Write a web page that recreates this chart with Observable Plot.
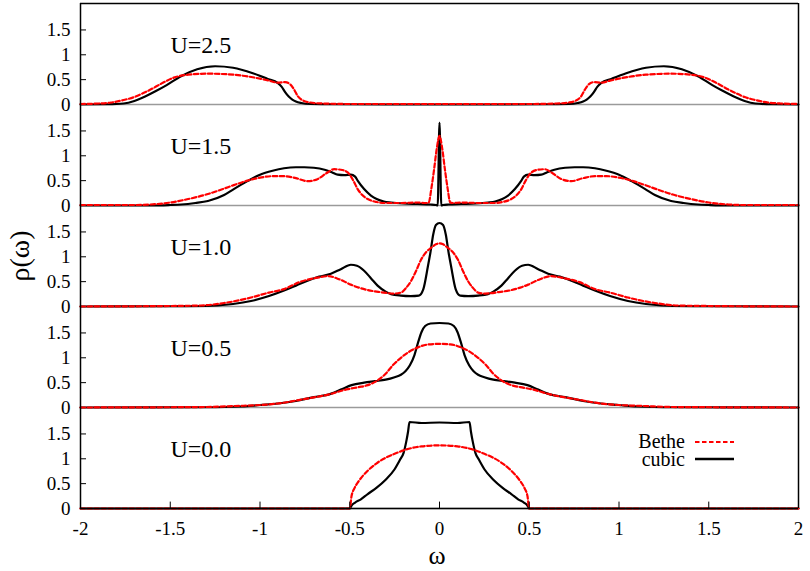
<!DOCTYPE html>
<html>
<head>
<meta charset="utf-8">
<script src="https://cdn.jsdelivr.net/npm/d3@7"></script>
<script src="https://cdn.jsdelivr.net/npm/@observablehq/plot@0.6"></script>
<style>
  body { margin: 0; background: #fff; }
  #wrap { position: relative; width: 810px; height: 571px; }
  #overlay { position: absolute; left: 0; top: 0; pointer-events: none; }
  #overlay text { fill: #000; }
</style>
</head>
<body>
<div id="wrap"></div>
<script>
// ---- labels / ticks ----
const panels = ["U=2.5", "U=1.5", "U=1.0", "U=0.5", "U=0.0"];
const xTicks = [-2, -1.5, -1, -0.5, 0, 0.5, 1, 1.5, 2];
const yTicks = [0, 0.5, 1, 1.5];
const seriesNames = ["Bethe", "cubic"];

// ---- U = 2.5 ----
const omegaU25Bethe = [-2,-1.9,-1.83,-1.76,-1.7,-1.65,-1.61,-1.55,-1.48,-1.4,-1.29,-1.15,-1,-0.95,-0.9,-0.86,-0.83,-0.81,-0.79,-0.76,-0.72,-0.65,-0.5,-0.3,0,0.3,0.5,0.65,0.72,0.76,0.79,0.81,0.83,0.86,0.9,0.95,1,1.15,1.29,1.4,1.48,1.55,1.61,1.65,1.7,1.76,1.83,1.9,2];
const rhoU25Bethe   = [0.01,0.02,0.04,0.09,0.15,0.23,0.3,0.42,0.54,0.6,0.62,0.6,0.52,0.48,0.44,0.45,0.4,0.3,0.17,0.08,0.04,0.02,0.01,0.01,0.01,0.01,0.01,0.02,0.04,0.08,0.17,0.3,0.4,0.45,0.44,0.48,0.52,0.6,0.62,0.6,0.54,0.42,0.3,0.23,0.15,0.09,0.04,0.02,0.01];
const omegaU25Cubic = [-2,-1.85,-1.76,-1.7,-1.64,-1.58,-1.52,-1.44,-1.35,-1.25,-1.15,-1.04,-0.96,-0.9,-0.88,-0.86,-0.84,-0.82,-0.8,-0.77,-0.72,-0.6,-0.3,0,0.3,0.6,0.72,0.77,0.8,0.82,0.84,0.86,0.88,0.9,0.96,1.04,1.15,1.25,1.35,1.44,1.52,1.58,1.64,1.7,1.76,1.85,2];
const rhoU25Cubic   = [0,0.005,0.02,0.07,0.16,0.27,0.39,0.57,0.71,0.77,0.74,0.63,0.52,0.43,0.36,0.25,0.16,0.1,0.06,0.03,0.01,0.005,0,0,0,0.005,0.01,0.03,0.06,0.1,0.16,0.25,0.36,0.43,0.52,0.63,0.74,0.77,0.71,0.57,0.39,0.27,0.16,0.07,0.02,0.005,0];

// ---- U = 1.5 ----
const omegaU15Bethe = [-2,-1.7,-1.61,-1.5,-1.4,-1.3,-1.2,-1.146,-1.07,-1,-0.93,-0.866,-0.8,-0.735,-0.68,-0.63,-0.587,-0.55,-0.51,-0.48,-0.456,-0.43,-0.4,-0.35,-0.31,-0.215,-0.12,-0.075,-0.06,-0.045,-0.03,-0.015,0,0.015,0.03,0.045,0.06,0.075,0.12,0.215,0.31,0.35,0.4,0.43,0.456,0.48,0.51,0.55,0.587,0.63,0.68,0.735,0.8,0.866,0.93,1,1.07,1.146,1.2,1.3,1.4,1.5,1.61,1.7,2];
const rhoU15Bethe   = [0.01,0.01,0.02,0.06,0.13,0.22,0.34,0.41,0.5,0.56,0.59,0.59,0.55,0.49,0.53,0.65,0.73,0.72,0.66,0.5,0.33,0.21,0.13,0.07,0.05,0.05,0.06,0.05,0.06,0.35,0.73,1.15,1.4,1.15,0.73,0.35,0.06,0.05,0.06,0.05,0.05,0.07,0.13,0.21,0.33,0.5,0.66,0.72,0.73,0.65,0.53,0.49,0.55,0.59,0.59,0.56,0.5,0.41,0.34,0.22,0.13,0.06,0.02,0.01,0.01];
const omegaU15Cubic = [-2,-1.6,-1.5,-1.44,-1.36,-1.29,-1.2,-1.146,-1.07,-1,-0.93,-0.866,-0.8,-0.753,-0.7,-0.64,-0.6,-0.567,-0.53,-0.494,-0.47,-0.456,-0.42,-0.382,-0.35,-0.31,-0.27,-0.2,-0.12,-0.05,-0.02,-0.01,0,0.01,0.02,0.05,0.12,0.2,0.27,0.31,0.35,0.382,0.42,0.456,0.47,0.494,0.53,0.567,0.6,0.64,0.7,0.753,0.8,0.866,0.93,1,1.07,1.146,1.2,1.29,1.36,1.44,1.5,1.6,2];
const rhoU15Cubic   = [0,0,0.01,0.02,0.05,0.09,0.21,0.33,0.49,0.62,0.7,0.75,0.77,0.77,0.76,0.72,0.67,0.62,0.61,0.62,0.58,0.5,0.33,0.2,0.13,0.08,0.06,0.04,0.03,0.02,0.01,0,1.67,0,0.01,0.02,0.03,0.04,0.06,0.08,0.13,0.2,0.33,0.5,0.58,0.62,0.61,0.62,0.67,0.72,0.76,0.77,0.77,0.75,0.7,0.62,0.49,0.33,0.21,0.09,0.05,0.02,0.01,0,0];

// ---- U = 1.0 ----
const omegaU10Bethe = [-2,-1.5,-1.33,-1.2,-1.05,-0.95,-0.866,-0.78,-0.68,-0.62,-0.56,-0.494,-0.45,-0.4,-0.33,-0.254,-0.215,-0.185,-0.159,-0.13,-0.103,-0.075,-0.047,-0.02,0,0.02,0.047,0.075,0.103,0.13,0.159,0.185,0.215,0.254,0.33,0.4,0.45,0.494,0.56,0.62,0.68,0.78,0.866,0.95,1.05,1.2,1.33,1.5,2];
const rhoU10Bethe   = [0,0.01,0.02,0.07,0.18,0.28,0.35,0.49,0.58,0.61,0.55,0.44,0.38,0.33,0.29,0.26,0.28,0.38,0.51,0.72,0.94,1.09,1.18,1.25,1.27,1.25,1.18,1.09,0.94,0.72,0.51,0.38,0.28,0.26,0.29,0.33,0.38,0.44,0.55,0.61,0.58,0.49,0.35,0.28,0.18,0.07,0.02,0.01,0];
const omegaU10Cubic = [-2,-1.5,-1.3,-1.237,-1.15,-1.05,-0.95,-0.866,-0.8,-0.735,-0.67,-0.605,-0.55,-0.494,-0.46,-0.42,-0.38,-0.345,-0.3,-0.27,-0.215,-0.16,-0.115,-0.09,-0.065,-0.05,-0.035,-0.02,0,0.02,0.035,0.05,0.065,0.09,0.115,0.16,0.215,0.27,0.3,0.345,0.38,0.42,0.46,0.494,0.55,0.605,0.67,0.735,0.8,0.866,0.95,1.05,1.15,1.237,1.3,1.5,2];
const rhoU10Cubic   = [0,0.005,0.01,0.02,0.05,0.11,0.21,0.32,0.42,0.52,0.6,0.66,0.75,0.84,0.82,0.72,0.56,0.42,0.3,0.25,0.22,0.21,0.22,0.35,0.8,1.1,1.45,1.64,1.68,1.64,1.45,1.1,0.8,0.35,0.22,0.21,0.22,0.25,0.3,0.42,0.56,0.72,0.82,0.84,0.75,0.66,0.6,0.52,0.42,0.32,0.21,0.11,0.05,0.02,0.01,0.005,0];

// ---- U = 0.5 ----
const omegaU05Bethe = [-2,-1.3,-1.14,-1,-0.9,-0.77,-0.62,-0.51,-0.45,-0.4,-0.343,-0.3,-0.26,-0.215,-0.17,-0.12,-0.06,0,0.06,0.12,0.17,0.215,0.26,0.3,0.343,0.4,0.45,0.51,0.62,0.77,0.9,1,1.14,1.3,2];
const rhoU05Bethe   = [0,0.01,0.03,0.05,0.08,0.16,0.26,0.37,0.41,0.45,0.55,0.68,0.85,1,1.12,1.21,1.27,1.28,1.27,1.21,1.12,1,0.85,0.68,0.55,0.45,0.41,0.37,0.26,0.16,0.08,0.05,0.03,0.01,0];
const omegaU05Cubic = [-2,-1.3,-1.1,-1,-0.9,-0.8,-0.7,-0.62,-0.55,-0.49,-0.42,-0.36,-0.3,-0.25,-0.215,-0.19,-0.165,-0.14,-0.12,-0.1,-0.08,-0.05,0,0.05,0.08,0.1,0.12,0.14,0.165,0.19,0.215,0.25,0.3,0.36,0.42,0.49,0.55,0.62,0.7,0.8,0.9,1,1.1,1.3,2];
const rhoU05Cubic   = [0,0.005,0.02,0.05,0.08,0.13,0.21,0.26,0.36,0.45,0.5,0.53,0.56,0.61,0.66,0.73,0.85,1.05,1.3,1.52,1.64,1.69,1.7,1.69,1.64,1.52,1.3,1.05,0.85,0.73,0.66,0.61,0.56,0.53,0.5,0.45,0.36,0.26,0.21,0.13,0.08,0.05,0.02,0.005,0];

// ---- U = 0.0 ----
const omegaU00Bethe = [-2,-0.5,-0.49,-0.475,-0.45,-0.4,-0.35,-0.3,-0.25,-0.2,-0.1,0,0.1,0.2,0.25,0.3,0.35,0.4,0.45,0.475,0.49,0.5,2];
const rhoU00Bethe   = [0,0,0.25,0.4,0.55,0.76,0.91,1.02,1.1,1.17,1.25,1.27,1.25,1.17,1.1,1.02,0.91,0.76,0.55,0.4,0.25,0,0];
const omegaU00Cubic = [-2,-0.5,-0.49,-0.47,-0.44,-0.4,-0.35,-0.3,-0.25,-0.22,-0.2,-0.185,-0.175,-0.167,-0.1,0,0.1,0.167,0.175,0.185,0.2,0.22,0.25,0.3,0.35,0.4,0.44,0.47,0.49,0.5,2];
const rhoU00Cubic   = [0,0,0.06,0.12,0.18,0.29,0.42,0.58,0.79,0.98,1.12,1.35,1.55,1.74,1.72,1.73,1.72,1.74,1.55,1.35,1.12,0.98,0.79,0.58,0.42,0.29,0.18,0.12,0.06,0,0];

// ---- table for the library ----
const rows = [];
function add(panel, series, xs, ys) {
  xs.forEach((x, i) => rows.push({panel, series, omega: x, rho: ys[i]}));
}
add(panels[0], seriesNames[0], omegaU25Bethe, rhoU25Bethe);
add(panels[0], seriesNames[1], omegaU25Cubic, rhoU25Cubic);
add(panels[1], seriesNames[0], omegaU15Bethe, rhoU15Bethe);
add(panels[1], seriesNames[1], omegaU15Cubic, rhoU15Cubic);
add(panels[2], seriesNames[0], omegaU10Bethe, rhoU10Bethe);
add(panels[2], seriesNames[1], omegaU10Cubic, rhoU10Cubic);
add(panels[3], seriesNames[0], omegaU05Bethe, rhoU05Bethe);
add(panels[3], seriesNames[1], omegaU05Cubic, rhoU05Cubic);
add(panels[4], seriesNames[0], omegaU00Bethe, rhoU00Bethe);
add(panels[4], seriesNames[1], omegaU00Cubic, rhoU00Cubic);

const SERIF = "Liberation Serif, DejaVu Serif, serif";
const W = 810, H = 571;
const mL = 80, mR = 12, mT = 1, mB = 62;
const innerW = W - mL - mR;
const panelH = (H - mT - mB) / panels.length;
const xDomain = [xTicks[0], xTicks[xTicks.length - 1]];
const yDomain = [0, panelH / 50];
const lastPanel = panels[panels.length - 1];
const firstPanel = panels[0];

const chart = Plot.plot({
  width: W, height: H,
  marginLeft: mL, marginRight: mR, marginTop: mT, marginBottom: mB,
  x: {domain: xDomain, label: null},
  y: {domain: yDomain, label: null},
  fy: {domain: panels, padding: 0, axis: null, label: null},
  style: {fontFamily: SERIF, fontSize: "19px", color: "#000", background: "#fff"},
  marks: [
    Plot.ruleY([0], {stroke: "#9a9a9a", strokeWidth: 1.5}),
    Plot.line(rows.filter(d => d.series === "cubic"), {x: "omega", y: "rho", fy: "panel", stroke: "#000", strokeWidth: 2.2, curve: "monotone-x"}),
    Plot.line(rows.filter(d => d.series === "Bethe"), {x: "omega", y: "rho", fy: "panel", stroke: "#ff0000", strokeWidth: 2.2, strokeDasharray: "4.5,2.5", curve: "monotone-x"}),
    Plot.ruleX(xDomain, {stroke: "#000", strokeWidth: 1.5}),
    Plot.ruleY([yDomain[1]], {fy: () => firstPanel, stroke: "#000", strokeWidth: 1.5}),
    Plot.ruleY([0], {fy: () => lastPanel, stroke: "#000", strokeWidth: 1.5}),
    Plot.tickY(yTicks.slice(1), {y: d => d, stroke: "#000", strokeWidth: 1, insetRight: innerW - 6}),
    Plot.tickX(xTicks.slice(1, -1), {x: d => d, fy: () => lastPanel, stroke: "#000", strokeWidth: 1, insetTop: panelH - 7}),
    Plot.axisY({ticks: yTicks, tickSize: 0, tickPadding: 10, tickFormat: d => String(d), label: null, fontFamily: SERIF, fontSize: 19, fontVariant: "normal"}),
    Plot.axisX({ticks: xTicks, tickSize: 0, tickPadding: 13, tickFormat: d => String(d), label: null, fontFamily: SERIF, fontSize: 19, fontVariant: "normal"}),
    Plot.text(panels, {text: d => d, fy: d => d, frameAnchor: "top-left", dx: 90, dy: 49, lineAnchor: "bottom", textAnchor: "start", fontSize: 24, fontFamily: SERIF})
  ]
});

const wrap = document.getElementById("wrap");
wrap.appendChild(chart);

// axis titles and legend
const ns = "http://www.w3.org/2000/svg";
const ov = document.createElementNS(ns, "svg");
ov.setAttribute("id", "overlay");
ov.setAttribute("width", W);
ov.setAttribute("height", H);
ov.innerHTML = `
  <text x="437" y="558" text-anchor="middle" dominant-baseline="middle" font-size="26" font-family="${SERIF}">ω</text>
  <text transform="translate(23,256) rotate(-90)" text-anchor="middle" dominant-baseline="middle" font-size="28" font-family="${SERIF}">ρ(ω)</text>
  <text x="685" y="448" text-anchor="end" font-size="20" font-family="${SERIF}">${seriesNames[0]}</text>
  <text x="685" y="466" text-anchor="end" font-size="20" font-family="${SERIF}">${seriesNames[1]}</text>
  <line x1="695" x2="734" y1="442" y2="442" stroke="#ff0000" stroke-width="2" stroke-dasharray="4.5,2.5"></line>
  <line x1="695" x2="734" y1="459" y2="459" stroke="#000" stroke-width="2.5"></line>
`;
wrap.appendChild(ov);
</script>
</body>
</html>
